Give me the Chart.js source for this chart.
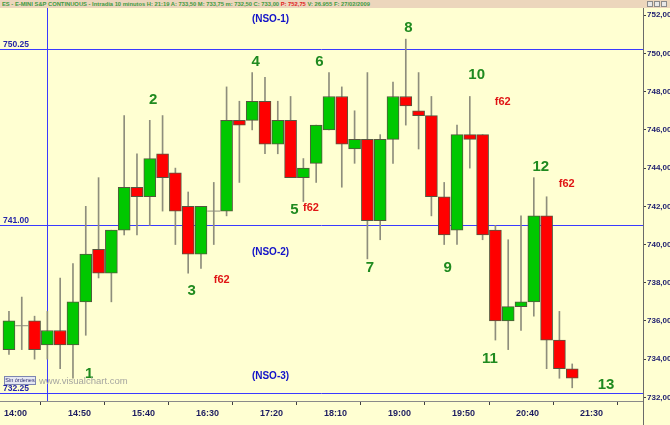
<!DOCTYPE html>
<html><head><meta charset="utf-8">
<script src="https://cdn.jsdelivr.net/npm/chart.js@4/dist/chart.umd.min.js"></script>
<style>
html,body{margin:0;padding:0;background:#FFFFD2;width:670px;height:425px;overflow:hidden;}
#hdr{position:absolute;left:0;top:0;width:670px;height:8px;background:#ECD6BC;overflow:hidden;}
#hdrText{position:absolute;left:2px;top:0;font:bold 6px "Liberation Sans",Arial,sans-serif;line-height:8px;white-space:nowrap;color:#3f9a3f;transform-origin:0 0;}
#hdrText .r{color:#e02020}
#win{position:absolute;right:3px;top:1px;height:6px;display:flex;gap:1px;}
#win span{display:block;width:4px;height:4px;border:1px solid #8a8a8a;background:#e8e8e8;}
#wrap{position:absolute;left:0;top:8px;width:670px;height:417px;}
</style></head>
<body>
<div id="hdr"><div id="hdrText"></div><div id="win"><span></span><span></span><span></span></div></div>
<div id="wrap"><canvas id="c" width="670" height="417"></canvas></div>
<script>
// ---- data (10-minute bars, ES E-mini S&P, 27/02/2009) ----
const times = ['14:00','14:10','14:20','14:30','14:40','14:50','15:00','15:10','15:20','15:30',
  '15:40','15:50','16:00','16:10','16:20','16:30','16:40','16:50','17:00','17:10',
  '17:20','17:30','17:40','17:50','18:00','18:10','18:20','18:30','18:40','18:50',
  '19:00','19:10','19:20','19:30','19:40','19:50','20:00','20:10','20:20','20:30',
  '20:40','20:50','21:00','21:10','21:20'];
const open  = [734.5,735.75,736,734.75,735.5,734.75,737,739.75,738.5,740.75,
  743,742.5,744.75,743.75,742,739.5,741.75,741.75,746.5,746.5,
  747.5,745.25,746.5,743.5,744.25,746,747.75,745,745.5,741.25,
  745.5,747.75,747,746.75,742.5,740.75,745.75,745.75,740.75,736,
  736.75,737,741.5,735,733.5];
const high  = [736.5,737.25,736.25,736.5,738.25,739,742,743.5,740.75,746.75,
  744.75,746.5,746.75,744,742.75,742,743.25,748.25,747.5,749,
  748.75,747.5,747.75,744.5,746.25,749,748.25,747,749,745.75,
  748.5,750.75,749,747.75,743.25,746.25,747.75,745.75,741,740.25,
  741.5,743.5,742.5,736.5,733.75];
const low   = [734.25,734.5,734,734,733.5,733,735.25,738.25,737,740.5,
  740.5,741,741.75,740,738.5,738.75,740,741.5,743.25,746,
  744.75,744.75,743.5,742.25,743.25,746,743,744.25,739.25,740.25,
  744.25,746.25,745,741.5,740,740,744,740.25,735,734.5,
  735.5,736.25,733.5,733,732.5];
const close = [736,735.75,734.5,735.5,734.75,737,739.5,738.5,740.75,743,
  742.5,744.5,743.5,741.75,739.5,742,741.75,746.5,746.25,747.5,
  745.25,746.5,743.5,744,746.25,747.75,745.25,745.5,741.25,745.5,
  747.75,747.25,746.75,742.5,740.5,745.75,745.5,740.5,736,736.75,
  737,741.5,735,733.5,733];
const xTickLabels = ['14:00','14:50','15:40','16:30','17:20','18:10','19:00','19:50','20:40','21:30'];
const yTickValues = [732,734,736,738,740,742,744,746,748,750,752];
const levels = [750.25, 741.00, 732.25];
const levelNames = ['(NSO-1)','(NSO-2)','(NSO-3)'];
const markerTime = '14:30';
// annotations: [text, bar index, price]
const waveLabels = [['1',6.27,733.25],['2',11.27,747.55],['3',14.27,737.55],['4',19.27,749.55],
  ['5',22.3,741.8],['6',24.25,749.55],['7',28.2,738.8],['8',31.2,751.35],['9',34.27,738.8],
  ['10',36.54,748.9],['11',37.58,734.0],['12',41.54,744.05],['13',46.64,732.65]];
const fibLabels = [['f62',16.62,738.15],['f62',23.59,741.9],['f62',38.57,747.45],['f62',43.57,743.15]];
const levelNameAt = [[20.43,751.78],[20.43,739.62],[20.43,733.12]];

// ---- header ----
const fmt = v => v.toFixed(2).replace('.', ',');
const L = times.length - 1;
document.getElementById('hdrText').innerHTML =
  'ES - E-MINI S&amp;P CONTINUOUS - Intradía 10 minutos H: 21:19 A: ' + fmt(open[L]) +
  ' M: ' + fmt(high[L]) + ' m: ' + fmt(low[L]) + ' C: ' + fmt(close[L]) +
  ' <span class="r">P: 752,75</span> V: 26.955 F: 27/02/2009';
(function(){ const el = document.getElementById('hdrText'); const w = el.getBoundingClientRect().width; el.style.transform = 'scaleX(' + (368 / w) + ')'; })();

const toMin = s => (+s.slice(0,2)) * 60 + (+s.slice(3));
const idxOf = s => (toMin(s) - toMin(times[0])) / 10;
const xTickIdx = xTickLabels.map(idxOf);

const GREEN = '#00C800', RED = '#FF0000', EDGE = '#56563f', WICK = '#8e8e7c';
const bodies = [], bodyColors = [], dojis = [], wicks = [];
times.forEach((t, i) => {
  wicks.push({x: i, y: [low[i], high[i]]});
  if (open[i] === close[i]) dojis.push({x: i, y: open[i]});
  else { bodies.push({x: i, y: [open[i], close[i]]}); bodyColors.push(close[i] > open[i] ? GREEN : RED); }
});

const FONT = '"Liberation Sans", Arial, sans-serif';
function text(ctx, s, x, y, font, color, align, base) {
  ctx.font = font; ctx.fillStyle = color; ctx.textAlign = align || 'center'; ctx.textBaseline = base || 'middle';
  ctx.fillText(s, x, y);
}

const overlay = {
  id: 'overlay',
  beforeDatasetsDraw(chart) {
    const {ctx, chartArea: a, scales: {x, y}} = chart;
    ctx.save();
    ctx.strokeStyle = '#3a3aff'; ctx.lineWidth = 1;
    levels.forEach(v => {
      const py = Math.round(y.getPixelForValue(v)) + 0.5;
      ctx.beginPath(); ctx.moveTo(a.left, py); ctx.lineTo(a.right, py); ctx.stroke();
    });
    const px = Math.round(x.getPixelForValue(idxOf(markerTime))) + 0.5;
    ctx.beginPath(); ctx.moveTo(px, a.top); ctx.lineTo(px, a.bottom); ctx.stroke();
    ctx.restore();
  },
  afterDatasetsDraw(chart) {
    const {ctx, chartArea: a, scales: {x, y}} = chart;
    ctx.save();
    levels.forEach((v, k) => {
      const py = Math.round(y.getPixelForValue(v));
      text(ctx, v.toFixed(2), a.left + 3, py - 2, 'bold 8.5px ' + FONT, '#2626a8', 'left', 'alphabetic');
      text(ctx, levelNames[k], x.getPixelForValue(levelNameAt[k][0]), y.getPixelForValue(levelNameAt[k][1]), 'bold 10px ' + FONT, '#1212c8');
    });
    waveLabels.forEach(([s, i, v]) => text(ctx, s, x.getPixelForValue(i), y.getPixelForValue(v), 'bold 15px ' + FONT, '#1f8a1f'));
    fibLabels.forEach(([s, i, v]) => text(ctx, s, x.getPixelForValue(i), y.getPixelForValue(v), 'bold 11px ' + FONT, '#e01515'));
    // footer badge and watermark
    const by = a.bottom - 25;
    ctx.fillStyle = '#e6e8f2'; ctx.fillRect(a.left + 4, by, 32, 9);
    ctx.strokeStyle = '#7d86b0'; ctx.lineWidth = 1; ctx.strokeRect(a.left + 4.5, by + 0.5, 31, 8);
    text(ctx, 'Sin órdenes', a.left + 20, by + 4.8, '5.5px ' + FONT, '#2a2a70');
    text(ctx, 'www.visualchart.com', a.left + 39, by + 5, '9.5px ' + FONT, '#a6a6a0', 'left');
    ctx.restore();
  },
  afterDraw(chart) {
    const {ctx, chartArea: a} = chart;
    ctx.save(); ctx.strokeStyle = '#6a6a6a'; ctx.lineWidth = 1;
    const px = Math.round(a.right) + 0.5;
    ctx.beginPath(); ctx.moveTo(px, a.bottom); ctx.lineTo(px, chart.height); ctx.stroke();
    ctx.restore();
  }
};

new Chart(document.getElementById('c'), {
  type: 'bar',
  data: {
    datasets: [
      {type: 'bar', data: bodies, backgroundColor: bodyColors, borderColor: EDGE, borderWidth: 1,
       borderSkipped: false, barThickness: 12, grouped: false, order: 0},
      {type: 'line', data: dojis, showLine: false, pointStyle: 'line', pointRadius: 6.5,
       pointBorderColor: WICK, pointBorderWidth: 1, order: 1, clip: false},
      {type: 'bar', data: wicks, backgroundColor: WICK, borderWidth: 0, barThickness: 1, grouped: false, order: 2}
    ]
  },
  options: {
    responsive: false, animation: false, events: [],
    devicePixelRatio: 1,
    layout: {padding: 0, autoPadding: false},
    plugins: {legend: {display: false}, tooltip: {enabled: false}},
    scales: {
      x: {
        type: 'linear', min: -0.7, max: 49.53, offset: false,
        afterBuildTicks: s => { s.ticks = xTickIdx.map(v => ({value: v})); },
        ticks: {callback: (v) => xTickLabels[xTickIdx.indexOf(v)], autoSkip: false, maxRotation: 0,
                font: {family: FONT, size: 9, weight: 'bold'}, color: '#1c1c60', labelOffset: 6.5, padding: 3},
        grid: {display: true, drawOnChartArea: false, drawTicks: true, tickLength: 4, tickColor: '#404040'},
        border: {display: true, color: '#8a8a8a'},
        afterFit: s => { s.height = 24; s.paddingLeft = 0; s.paddingRight = 0; }
      },
      y: {
        position: 'right', min: 731.81, max: 752.38,
        afterBuildTicks: s => { s.ticks = yTickValues.map(v => ({value: v})); },
        ticks: {callback: v => fmt(v), font: {family: FONT, size: 8, weight: 'bold'}, color: '#1c1c6e', padding: 1},
        grid: {display: true, drawOnChartArea: false, drawTicks: true, tickLength: 3, tickColor: '#404040'},
        border: {display: true, color: '#6a6a6a'},
        afterFit: s => { s.width = 27; s.paddingTop = 0; s.paddingBottom = 0; }
      }
    }
  },
  plugins: [overlay]
});
</script>
</body></html>
